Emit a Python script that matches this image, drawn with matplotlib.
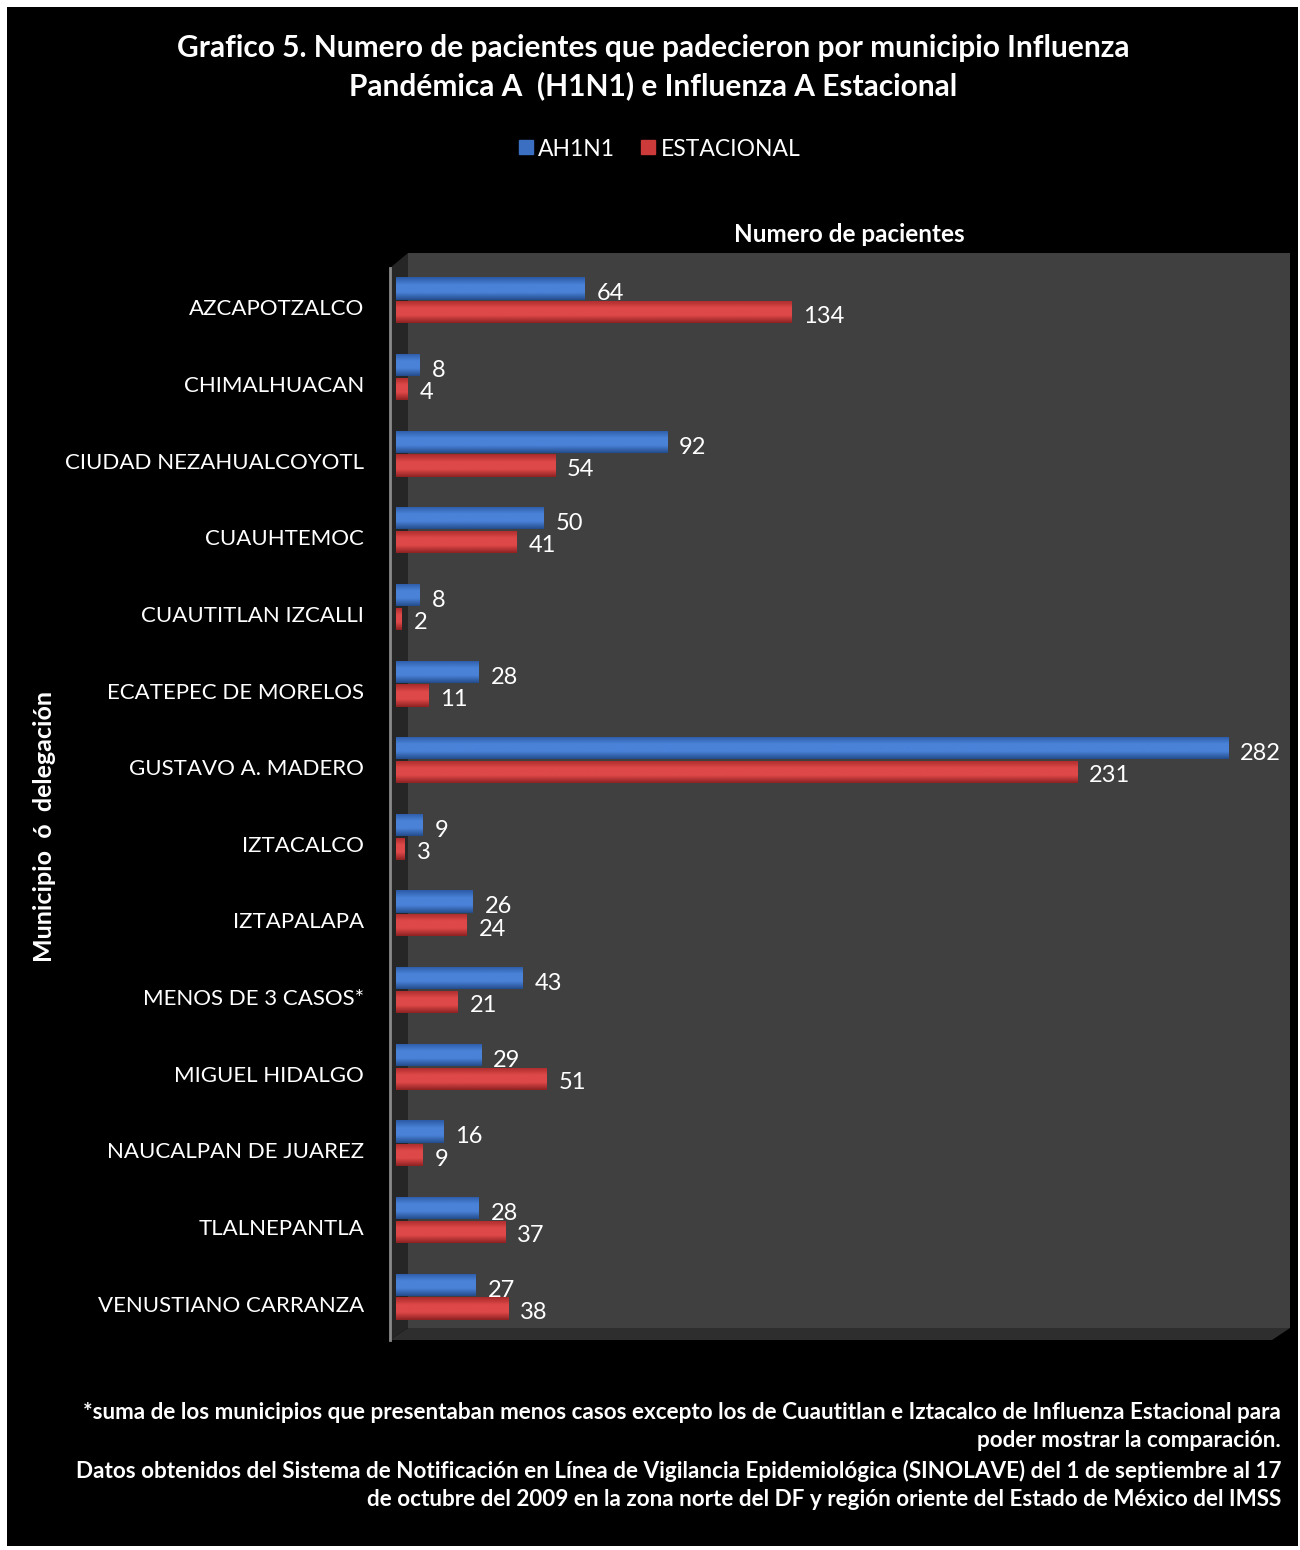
import numpy as np
import matplotlib
matplotlib.use("Agg")
import matplotlib.pyplot as plt
import matplotlib.transforms as mtrans
from matplotlib.patches import Polygon, Rectangle
from matplotlib.lines import Line2D

plt.rcParams['font.family'] = ['Lato', 'DejaVu Sans']

# datos
municipios = ["AZCAPOTZALCO", "CHIMALHUACAN", "CIUDAD NEZAHUALCOYOTL", "CUAUHTEMOC",
              "CUAUTITLAN IZCALLI", "ECATEPEC DE MORELOS", "GUSTAVO A. MADERO",
              "IZTACALCO", "IZTAPALAPA", "MENOS DE 3 CASOS*", "MIGUEL HIDALGO",
              "NAUCALPAN DE JUAREZ", "TLALNEPANTLA", "VENUSTIANO CARRANZA"]
ah1n1 = [64, 8, 92, 50, 8, 28, 282, 9, 26, 43, 29, 16, 28, 27]
estacional = [134, 4, 54, 41, 2, 11, 231, 3, 24, 21, 51, 9, 37, 38]
series = ["AH1N1", "ESTACIONAL"]

titulo = ("Grafico 5. Numero de pacientes que padecieron por municipio Influenza\n"
          "Pandémica A  (H1N1) e Influenza A Estacional")
nota = ("*suma de los municipios que presentaban menos casos excepto los de Cuautitlan e Iztacalco de Influenza Estacional para\n"
        "poder mostrar la comparación.\n"
        "Datos obtenidos del Sistema de Notificación en Línea de Vigilancia Epidemiológica (SINOLAVE) del 1 de septiembre al 17\n"
        "de octubre del 2009 en la zona norte del DF y región oriente del Estado de México del IMSS")

W, H = 1300, 1550
fig = plt.figure(figsize=(13, 15.5), dpi=100, facecolor='white')

# fondo y paredes 3D en pixeles
bg = fig.add_axes([0, 0, 1, 1])
bg.set_xlim(0, W)
bg.set_ylim(H, 0)
bg.axis('off')
bg.add_patch(Rectangle((7, 7), 1291, 1539, facecolor='black', edgecolor='none'))
bg.add_patch(Polygon([(408, 253), (1290, 253), (1290, 1328), (408, 1328)],
                     facecolor='#404040', edgecolor='none'))
bg.add_patch(Polygon([(390, 268), (408, 253), (408, 1328), (390, 1340)],
                     facecolor='#262626', edgecolor='none'))
bg.add_patch(Polygon([(390, 1340), (408, 1328), (1290, 1328), (1272, 1340)],
                     facecolor='#2e2e2e', edgecolor='none'))
bg.plot([390, 390], [268, 1340], color='#8a8a8a', lw=2)

ax = fig.add_axes([396 / W, 1 - 1335 / H, 894 / W, 1073 / H])
ax.patch.set_alpha(0)
n = len(municipios)
y = np.arange(n)
h = 0.29
xmax = 303

def gradient_bars(bars, top, mid, bot):
    cmap = matplotlib.colors.LinearSegmentedColormap.from_list('g', [top, mid, mid, bot])
    grad = np.linspace(0, 1, 64).reshape(-1, 1)
    for b in bars:
        x0, y0 = b.get_x(), b.get_y()
        w, hh = b.get_width(), b.get_height()
        im = ax.imshow(grad, cmap=cmap, aspect='auto', extent=[x0, x0 + w, y0 + hh, y0],
                       zorder=3, interpolation='bilinear')
        im.set_clip_path(b)

b1 = ax.barh(y - h / 2 - 0.01, ah1n1, height=h, color='#3b6fc2', zorder=2)
b2 = ax.barh(y + h / 2 + 0.01, estacional, height=h, color='#cc3a3a', zorder=2)
gradient_bars(b1, '#2b5aa5', '#4a82d8', '#244c8c')
gradient_bars(b2, '#a82a2a', '#de4848', '#8e2222')

for i in range(n):
    ax.text(ah1n1[i] + 4, y[i] - h / 2 + 0.06, str(ah1n1[i]), color='white',
            fontsize=17, va='center', ha='left', zorder=5)
    ax.text(estacional[i] + 4, y[i] + h / 2 + 0.06, str(estacional[i]), color='white',
            fontsize=17, va='center', ha='left', zorder=5)

ax.set_xlim(0, xmax)
ax.set_ylim(n - 0.5, -0.5)
ax.set_xticks([])
ax.set_yticks(y)
ax.set_yticklabels(municipios, color='white', fontsize=16)
ax.tick_params(axis='y', length=0, pad=23)
# las etiquetas quedan un poco abajo del centro de las barras
shift = mtrans.ScaledTranslation(0, -0.07, fig.dpi_scale_trans)
for lbl in ax.get_yticklabels():
    lbl.set_transform(lbl.get_transform() + shift)
for s in ax.spines.values():
    s.set_visible(False)

# textos
fig.text(653 / W, 1 - 67 / H, titulo, color='white', fontsize=21.5, fontweight='bold',
         ha='center', va='center', linespacing=1.35)
fig.text(849 / W, 1 - 235 / H, "Numero de pacientes", color='white', fontsize=17.5,
         fontweight='bold', ha='center', va='center')
fig.text(45 / W, 1 - 827 / H, "Municipio  ó  delegación", color='white', fontsize=18,
         fontweight='bold', ha='center', va='center', rotation=90)
fig.text(1281 / W, 1 - 1456 / H, nota, color='white', fontsize=16.2, fontweight='bold',
         ha='right', va='center', linespacing=1.45)

handles = [Line2D([], [], marker='s', ls='none', markersize=10, color='#3b6fc2'),
           Line2D([], [], marker='s', ls='none', markersize=10, color='#cc3a3a')]
fig.legend(handles, series, loc='center', bbox_to_anchor=(658 / W, 1 - 149 / H), ncol=2,
           frameon=False, labelcolor='white', fontsize=16.5, handletextpad=0.1,
           handlelength=0.9, columnspacing=1.0)

fig.savefig("out.png", dpi=100, facecolor='white')
